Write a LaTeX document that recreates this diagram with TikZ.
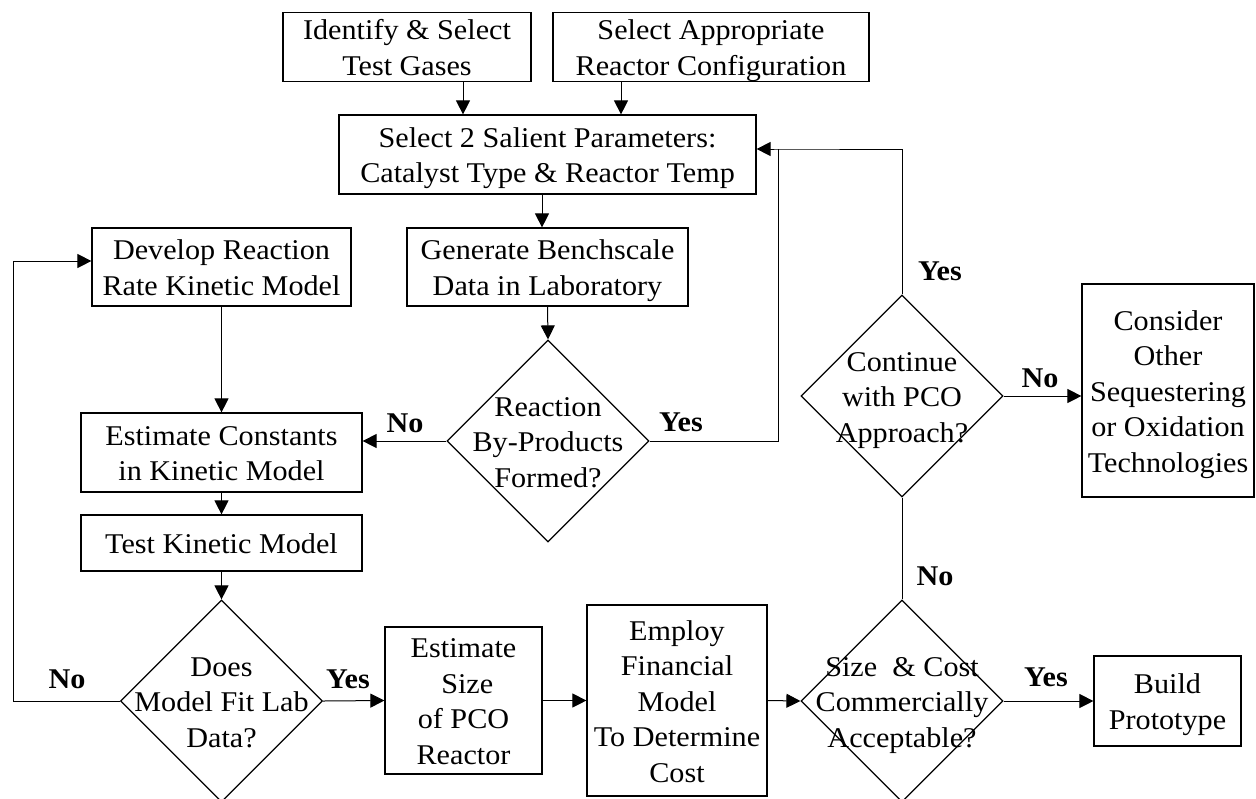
\documentclass[tikz,border=0pt]{standalone}
\usepackage{fontspec}
\setmainfont{Liberation Serif}[FakeStretch=1.055]
\usetikzlibrary{arrows.meta,shapes.geometric}
\newcommand\ls{\rule[-3.3pt]{0pt}{17.1pt}}
\tikzset{
  proc/.style={draw,line width=0.6pt,align=center,inner sep=0pt},
  decision/.style={draw,line width=0.6pt,diamond,aspect=1,inner sep=0pt,
    minimum width=101pt,minimum height=101pt},
  ans/.style={font=\fontsize{14.3}{17.75}\selectfont\bfseries,inner sep=0pt},
  arr/.style={line width=0.5pt,-{Triangle[length=7pt,width=7pt]}},
  ln/.style={line width=0.5pt}
}
\begin{document}
\begin{tikzpicture}[x=0.5pt,y=-0.5pt,font=\fontsize{14.3}{17.75}\selectfont]
\useasboundingbox (0,0) rectangle (1256,798);
%top row
\node[proc,minimum width=124pt,minimum height=34pt] (gases) at (407,47) {\ls Identify \& Select\\Test Gases\ls};
\node[proc,minimum width=158pt,minimum height=34pt] (config) at (711,47) {\ls Select Appropriate\\Reactor Configuration\ls};
\node[proc,minimum width=208.5pt,minimum height=39.5pt] (param) at (547.5,154.5) {\ls Select 2 Salient Parameters:\\Catalyst Type \& Reactor Temp\ls};
\node[proc,minimum width=140.5pt,minimum height=39pt] (bench) at (547.5,267) {\ls Generate Benchscale\\Data in Laboratory\ls};
%kinetic model column
\node[proc,minimum width=129.5pt,minimum height=39pt] (develop) at (221.5,267) {\ls Develop Reaction\\Rate Kinetic Model\ls};
\node[proc,minimum width=140.5pt,minimum height=39.5pt] (consts) at (221.5,452.5) {\ls Estimate Constants\\in Kinetic Model\ls};
\node[proc,minimum width=140.5pt,minimum height=28pt] (test) at (221.5,543) {\ls Test Kinetic Model};
%bottom row
\node[proc,minimum width=78.5pt,minimum height=73.5pt] (size) at (463.5,700.5) {\ls Estimate\\\ Size\\of PCO\\Reactor\ls};
\node[proc,minimum width=90pt,minimum height=95.5pt] (cost) at (677,700.5) {\ls Employ\\Financial\\Model\\To Determine\\Cost\ls};
\node[proc,minimum width=73.5pt,minimum height=45pt] (proto) at (1167.5,701) {\ls Build\\Prototype\ls};
\node[proc,minimum width=86pt,minimum height=106.5pt] (other) at (1168,390.5) {\ls Consider\\Other\\Sequestering\\or Oxidation\\Technologies\ls};
%decisions
\node[decision,label={[align=center]center:\ls Reaction\\By-Products\\Formed?\ls}] (byprod) at (548,441) {};
\node[decision,label={[align=center]center:\ls Does\\Model Fit Lab\\Data?\ls}] (fit) at (221.5,701) {};
\node[decision,label={[align=center]center:\ls Continue\\with PCO\\Approach?\ls}] (cont) at (902,396) {};
\node[decision,label={[align=center]center:\ls Size \ \& Cost\\Commercially\\Acceptable?\ls}] (accept) at (902,701) {};
%corners
\coordinate (fb) at (778,149);
\coordinate (lp) at (13,261);
%connectors
\draw[arr] ([xshift=28pt]gases.south) -- ([xshift=28pt]gases.south |- param.north);
\draw[arr] ([xshift=-45pt]config.south) -- ([xshift=-45pt]config.south |- param.north);
\draw[arr] ([xshift=-2.75pt]param.south) -- ([xshift=-2.75pt]param.south |- bench.north);
\draw[arr] (bench.south) -- (byprod.north);
\draw[arr] (byprod.west) -- (byprod.west -| consts.east);
\draw[ln] (byprod.east) -| (fb);
\draw[arr] (cont.north) |- (fb) -- (fb -| param.east);
\draw[arr] (cont.east) -- (cont.east -| other.west);
\draw[ln] (accept.north) -- (cont.south);
\draw[arr] (develop.south) -- (consts.north);
\draw[arr] (consts.south) -- (test.north);
\draw[arr] (test.south) -- (fit.north);
\draw[arr] (fit.west) -| (lp) -- (lp -| develop.west);
\draw[arr] (fit.east) -- (size.west);
\draw[arr] (size.east) -- (cost.west);
\draw[arr] (cost.east) -- (accept.west);
\draw[arr] (accept.east) -- (proto.west);
%labels
\node[ans] (no1) at (405,423) {No};
\node[ans] (yes1) at (681,422) {Yes};
\node[ans] (yes2) at (940,271) {Yes};
\node[ans] (no2) at (1040,378) {No};
\node[ans] (no3) at (935,576) {No};
\node[ans] (yes3) at (1046,677) {Yes};
\node[ans] (no4) at (67,679) {No};
\node[ans] (yes4) at (348,679) {Yes};
\end{tikzpicture}
\end{document}
